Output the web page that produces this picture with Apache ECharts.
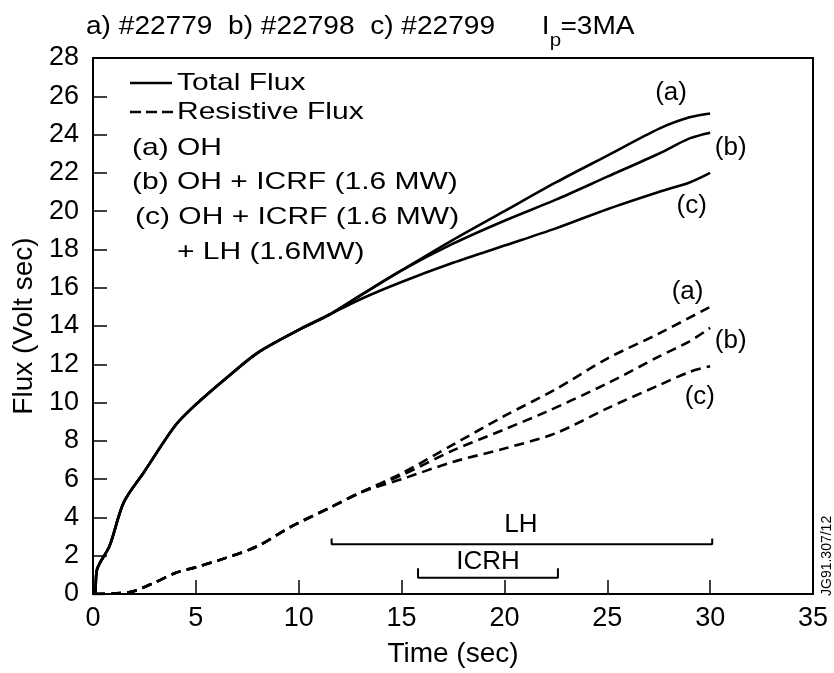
<!DOCTYPE html>
<html>
<head>
<meta charset="utf-8">
<script src="https://cdn.jsdelivr.net/npm/echarts@6/dist/echarts.min.js"></script>
<style>
html,body{margin:0;padding:0;background:#fff;}
#c{width:834px;height:673px;}
</style>
</head>
<body>
<div id="c"></div>
<script>
// ---- data ----
const tTotal = [0, 0.1, 0.2, 0.8, 1.5, 2.5, 4, 5, 6.5, 8, 10, 11.5, 13, 15, 17.5, 20, 22.5, 25, 27.5, 29, 30];
const totalA = [0, 0, 1.3, 2.5, 4.8, 6.4, 8.8, 9.9, 11.3, 12.6, 13.8, 14.6, 15.6, 16.9, 18.5, 20.0, 21.5, 22.9, 24.3, 24.9, 25.1];
const totalB = [0, 0, 1.3, 2.5, 4.8, 6.4, 8.8, 9.9, 11.3, 12.6, 13.8, 14.6, 15.6, 16.9, 18.3, 19.5, 20.6, 21.8, 23.0, 23.8, 24.1];
const totalC = [0, 0, 1.3, 2.5, 4.8, 6.4, 8.8, 9.9, 11.3, 12.6, 13.8, 14.6, 15.4, 16.3, 17.3, 18.2, 19.1, 20.1, 21.0, 21.5, 22.0];

const tResA = [0.1, 1.8, 3, 4, 5, 6.5, 8, 9.6, 11.5, 13, 15, 17.5, 20, 22.5, 25, 27.5, 30];
const resA  = [0, 0.1, 0.6, 1.1, 1.4, 1.9, 2.5, 3.5, 4.5, 5.3, 6.3, 7.8, 9.3, 10.7, 12.3, 13.6, 15.0];
const tResB = [0.1, 1.8, 3, 4, 5, 6.5, 8, 9.6, 11.5, 13, 15, 17.5, 20, 22, 25, 27.5, 29, 30];
const resB  = [0, 0.1, 0.6, 1.1, 1.4, 1.9, 2.5, 3.5, 4.5, 5.3, 6.2, 7.5, 8.6, 9.5, 11.0, 12.4, 13.2, 13.9];
const tResC = [0.1, 1.8, 3, 4, 5, 6.5, 8, 9.6, 11.5, 13, 15, 17.5, 20, 22.5, 25, 27.5, 29, 30];
const resC  = [0, 0.1, 0.6, 1.1, 1.4, 1.9, 2.5, 3.5, 4.5, 5.3, 6.0, 6.9, 7.6, 8.4, 9.7, 10.9, 11.6, 11.9];

// curve tags: [time, flux, text]
const curveTags = [
  [28.1, 26.2, '(a)'], [31.0, 23.3, '(b)'], [29.1, 20.3, '(c)'],
  [28.9, 15.8, '(a)'], [31.0, 13.2, '(b)'], [29.5, 10.3, '(c)']
];
// heating windows
const lhWindow = [11.6, 30.1];
const lhLevel = 2.6;
const icrhWindow = [15.8, 22.6];
const icrhLevel = 0.85;
const windowTags = [[20.8, 3.6, 'LH'], [19.2, 1.7, 'ICRH']];

const xTicks = {min: 0, max: 35, interval: 5};
const yTicks = {min: 0, max: 28, interval: 2};

const titleMain = 'a) #22779  b) #22798  c) #22799      I';
const titleSub = 'p';
const titleTail = '=3MA';
const xName = 'Time (sec)';
const yName = 'Flux (Volt sec)';
const legendLines = ['Total Flux', 'Resistive Flux'];
const legendCases = ['(a) OH', '(b) OH + ICRF (1.6 MW)', '(c) OH + ICRF (1.6 MW)', '+ LH (1.6MW)'];
const stamp = 'JG91.307/12';

// ---- build ----
const FONT = '"Liberation Sans", Arial, Helvetica, sans-serif';
const zip = (t, v) => t.map((x, i) => [x, v[i]]);
const solid = {color: '#000', width: 2.6};
const dashed = {color: '#000', width: 2.6, type: [10, 6]};
function lineSeries(data, style) {
  return {type: 'line', data: data, symbol: 'none', smooth: 0.3, lineStyle: style, silent: true, animation: false, z: 3};
}
function bracket(win, level, tick) {
  return {type: 'line', symbol: 'none', silent: true, animation: false,
    lineStyle: {color: '#000', width: 2},
    data: [[win[0], level + tick], [win[0], level], [win[1], level], [win[1], level + tick]]};
}
function tagSeries(tags) {
  return {type: 'scatter', symbolSize: 0, silent: true, animation: false,
    itemStyle: {color: '#000', opacity: 1},
    data: tags.map(d => ({value: [d[0], d[1]], label: {formatter: d[2]}})),
    label: {show: true, position: 'inside', color: '#000', fontSize: 26, fontFamily: FONT,
      textBorderWidth: 0, textBorderColor: 'transparent', opacity: 1}};
}
const mctx = document.createElement('canvas').getContext('2d');
function textW(s, size) { mctx.font = size + 'px ' + FONT; return mctx.measureText(s).width; }

const chart = echarts.init(document.getElementById('c'), null, {renderer: 'canvas'});
const legendX = 130;
const legendY = [83, 112];
const caseY = [148, 182, 217, 252];
const caseX = [132, 132, 135, 177];
const LSX = 1.25;   // horizontal stretch of the printed lettering
const TSX = 1.08;
const titleX = 86, titleSize = 26;
const subX = titleX + textW(titleMain, titleSize) * TSX;
const tailX = subX + textW(titleSub, 18) * TSX;

function ltext(x, y, s) {
  return {type: 'text', x: x, y: y, scaleX: LSX,
    style: {text: s, fontSize: 24, fill: '#000', fontFamily: FONT, verticalAlign: 'middle'}};
}

chart.setOption({
  backgroundColor: '#fff',
  animation: false,
  grid: {left: 93, right: 21, top: 58, bottom: 79, show: true, borderColor: '#000', borderWidth: 2},
  xAxis: {
    type: 'value', min: xTicks.min, max: xTicks.max, interval: xTicks.interval,
    name: xName, nameLocation: 'middle', nameGap: 46,
    nameTextStyle: {fontSize: 28, color: '#000', fontFamily: FONT},
    axisLine: {lineStyle: {color: '#000', width: 2}},
    axisTick: {inside: true, length: 14, lineStyle: {color: '#000', width: 1.5}},
    axisLabel: {fontSize: 27, color: '#000', margin: 11, fontFamily: FONT},
    splitLine: {show: false}
  },
  yAxis: {
    type: 'value', min: yTicks.min, max: yTicks.max, interval: yTicks.interval,
    name: yName, nameLocation: 'middle', nameGap: 54,
    nameTextStyle: {fontSize: 28, color: '#000', fontFamily: FONT},
    axisLine: {lineStyle: {color: '#000', width: 2}},
    axisTick: {inside: true, length: 14, lineStyle: {color: '#000', width: 1.5}},
    axisLabel: {fontSize: 27, color: '#000', margin: 14, fontFamily: FONT},
    splitLine: {show: false}
  },
  series: [
    lineSeries(zip(tTotal, totalA), solid),
    lineSeries(zip(tTotal, totalB), solid),
    lineSeries(zip(tTotal, totalC), solid),
    lineSeries(zip(tResA, resA), dashed),
    lineSeries(zip(tResB, resB), dashed),
    lineSeries(zip(tResC, resC), dashed),
    bracket(lhWindow, lhLevel, 0.3),
    bracket(icrhWindow, icrhLevel, 0.5),
    tagSeries(curveTags),
    tagSeries(windowTags)
  ],
  graphic: [
    {type: 'text', x: titleX, y: 27, scaleX: TSX, style: {text: titleMain, fontSize: titleSize, fill: '#000', fontFamily: FONT, verticalAlign: 'middle'}},
    {type: 'text', x: subX, y: 41, scaleX: TSX, style: {text: titleSub, fontSize: 19, fill: '#000', fontFamily: FONT, verticalAlign: 'middle'}},
    {type: 'text', x: tailX, y: 27, scaleX: TSX, style: {text: titleTail, fontSize: titleSize, fill: '#000', fontFamily: FONT, verticalAlign: 'middle'}},
    {type: 'line', shape: {x1: legendX, y1: legendY[0], x2: legendX + 42, y2: legendY[0]}, style: {stroke: '#000', lineWidth: 2.6}},
    {type: 'line', shape: {x1: legendX, y1: legendY[1], x2: legendX + 43, y2: legendY[1]}, style: {stroke: '#000', lineWidth: 2.6, lineDash: [11, 5]}},
    ltext(177, legendY[0], legendLines[0]),
    ltext(177, legendY[1], legendLines[1]),
    ...legendCases.map((s, i) => ltext(caseX[i], caseY[i], s)),
    {type: 'text', x: 827, y: 596, rotation: Math.PI / 2, style: {text: stamp, fontSize: 14, fill: '#000', fontFamily: FONT, align: 'left', verticalAlign: 'middle'}}
  ]
});
</script>
</body>
</html>
